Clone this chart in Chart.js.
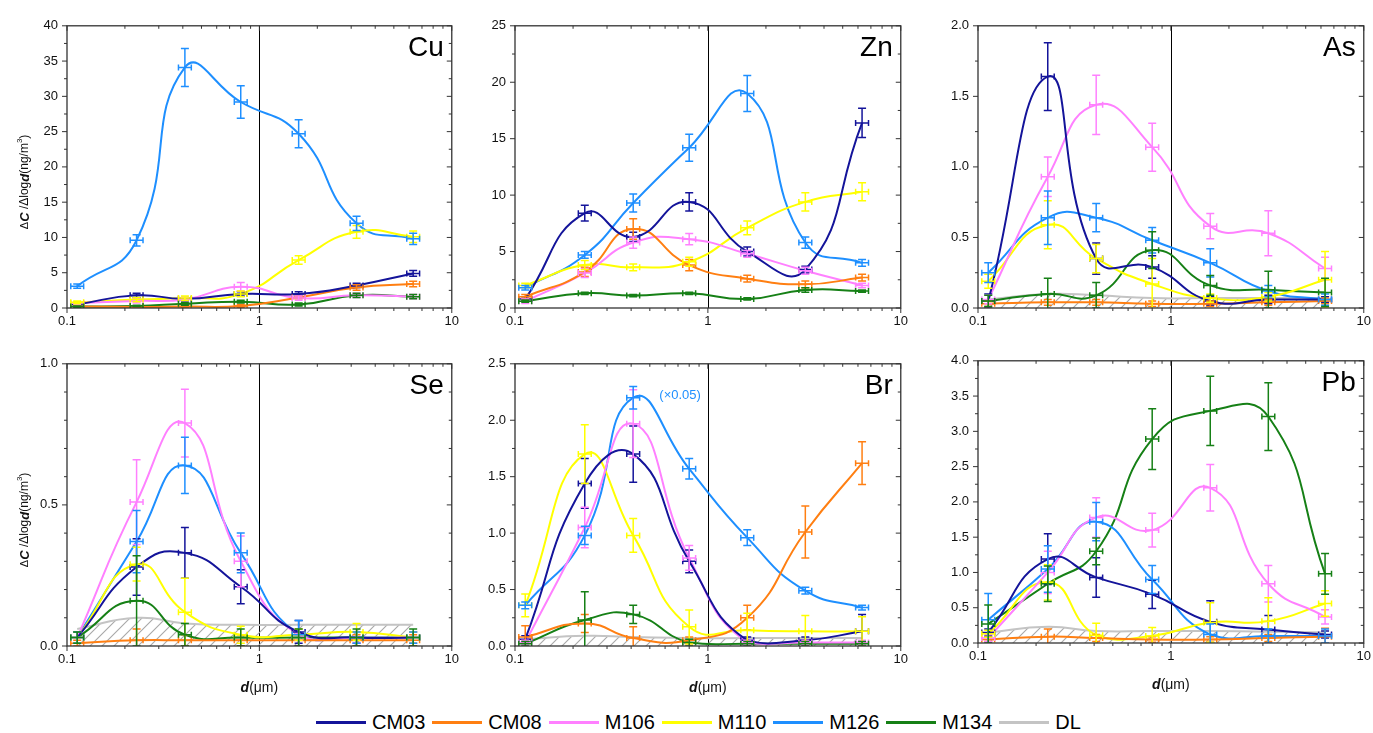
<!DOCTYPE html>
<html>
<head>
<meta charset="utf-8">
<script src="https://cdn.jsdelivr.net/npm/chart.js@4.4.0/dist/chart.umd.min.js"></script>
<style>
  html, body { margin: 0; padding: 0; background: #fff; overflow: hidden; }
  body { width: 1373px; height: 733px; position: relative; font-family: "Liberation Sans", Arial, sans-serif; }
  .panel { position: absolute; }
  #legend { position: absolute; top: 710px; left: 316px; height: 24px; display: flex; align-items: center;
            font-size: 20px; color: #000; white-space: nowrap; }
  #legend .item { display: flex; align-items: center; margin-right: 7px; }
  #legend .item i { display: inline-block; width: 50px; height: 3px; margin-right: 6px; }
</style>
</head>
<body>
<div id="legend"></div>
<script>
// stage mid diameters (um)
const SIZES = [0.113, 0.23, 0.41, 0.80, 1.6, 3.2, 6.3];
const SERIES = ['CM03', 'CM08', 'M106', 'M110', 'M126', 'M134'];
const COLORS = ['#14149a', '#ff7f12', '#ff80ff', '#ffff00', '#1e8fff', '#168016'];
const DL_COLOR = '#c4c4c4';
const X_ERR = 1.08; // horizontal error bar, multiplicative
const X_LABELS = [0.1, 1, 10];

// values per series, in SERIES order
const cuVal = [
  [0.5, 1.8, 1.3, 2.0, 2.0, 3.2, 4.9],
  [0.2, 0.15, 0.2, 0.3, 1.5, 2.9, 3.4],
  [0.7, 1.0, 1.2, 3.0, 1.4, 1.8, 1.6],
  [0.8, 1.2, 1.4, 2.0, 6.8, 10.8, 10.1],
  [3.1, 9.6, 34.1, 29.2, 24.7, 12.0, 9.8],
  [0.2, 0.3, 0.6, 0.9, 0.5, 1.8, 1.6]
];
const cuErr = [
  [0.2, 0.3, 0.2, 0.3, 0.3, 0.3, 0.4],
  [0.1, 0.1, 0.1, 0.2, 0.2, 0.4, 0.4],
  [0.2, 0.3, 0.3, 0.6, 0.3, 0.3, 0.3],
  [0.2, 0.3, 0.3, 0.4, 0.6, 0.9, 0.8],
  [0.3, 0.8, 2.7, 2.3, 2.0, 1.0, 0.8],
  [0.1, 0.1, 0.2, 0.2, 0.2, 0.3, 0.3]
];

const znVal = [
  [0.8, 8.4, 6.3, 9.4, 5.0, 3.4, 16.4],
  [1.0, 3.2, 7.0, 3.8, 2.6, 2.1, 2.7],
  [0.6, 3.1, 5.8, 6.1, 4.8, 3.3, 2.0],
  [2.0, 3.8, 3.6, 4.1, 7.1, 9.4, 10.3],
  [1.8, 4.7, 9.3, 14.2, 19.0, 5.8, 4.0],
  [0.6, 1.3, 1.1, 1.3, 0.8, 1.6, 1.5]
];
const znErr = [
  [0.2, 0.7, 0.4, 0.8, 0.4, 0.3, 1.3],
  [0.2, 0.4, 0.9, 0.5, 0.3, 0.3, 0.3],
  [0.2, 0.4, 0.5, 0.5, 0.3, 0.3, 0.2],
  [0.2, 0.4, 0.3, 0.4, 0.6, 0.8, 0.8],
  [0.2, 0.3, 0.8, 1.2, 1.6, 0.5, 0.3],
  [0.1, 0.1, 0.1, 0.1, 0.1, 0.2, 0.1]
];

const asVal = [
  [0.05, 1.64, 0.35, 0.29, 0.05, 0.06, 0.06],
  [0.03, 0.04, 0.04, 0.03, 0.03, 0.04, 0.05],
  [0.06, 0.93, 1.44, 1.14, 0.58, 0.53, 0.28],
  [0.19, 0.59, 0.35, 0.17, 0.07, 0.08, 0.20],
  [0.25, 0.64, 0.64, 0.48, 0.32, 0.12, 0.06],
  [0.05, 0.10, 0.09, 0.41, 0.16, 0.13, 0.11]
];
const asErr = [
  [0.05, 0.24, 0.11, 0.08, 0.03, 0.03, 0.02],
  [0.02, 0.02, 0.02, 0.02, 0.02, 0.02, 0.02],
  [0.03, 0.14, 0.21, 0.17, 0.09, 0.16, 0.08],
  [0.05, 0.17, 0.10, 0.18, 0.03, 0.03, 0.20],
  [0.07, 0.19, 0.10, 0.09, 0.10, 0.04, 0.04],
  [0.04, 0.11, 0.09, 0.13, 0.07, 0.13, 0.10]
];
const asDL = [0.06, 0.10, 0.09, 0.07, 0.07, 0.07, 0.07];

const seVal = [
  [0.03, 0.28, 0.33, 0.21, 0.05, 0.03, 0.03],
  [0.01, 0.02, 0.02, 0.02, 0.02, 0.02, 0.02],
  [0.03, 0.51, 0.79, 0.30, 0.04, 0.03, 0.03],
  [0.03, 0.29, 0.12, 0.04, 0.04, 0.05, 0.03],
  [0.03, 0.37, 0.64, 0.33, 0.04, 0.03, 0.03],
  [0.03, 0.16, 0.04, 0.03, 0.03, 0.03, 0.03]
];
const seErr = [
  [0.02, 0.10, 0.09, 0.06, 0.04, 0.02, 0.02],
  [0.01, 0.04, 0.02, 0.02, 0.02, 0.02, 0.02],
  [0.02, 0.15, 0.12, 0.09, 0.02, 0.02, 0.02],
  [0.02, 0.06, 0.12, 0.03, 0.02, 0.03, 0.02],
  [0.02, 0.11, 0.10, 0.07, 0.05, 0.02, 0.02],
  [0.02, 0.16, 0.04, 0.03, 0.03, 0.03, 0.03]
];
const seDL = [0.06, 0.10, 0.08, 0.075, 0.075, 0.075, 0.075];

const brVal = [
  [0.06, 1.44, 1.70, 0.75, 0.05, 0.05, 0.13],
  [0.08, 0.20, 0.07, 0.05, 0.25, 1.01, 1.62],
  [0.03, 1.05, 1.97, 0.78, 0.03, 0.03, 0.03],
  [0.36, 1.70, 0.98, 0.17, 0.14, 0.13, 0.13],
  [0.36, 0.98, 2.20, 1.57, 0.96, 0.49, 0.34],
  [0.02, 0.23, 0.28, 0.03, 0.02, 0.02, 0.02]
];
const brErr = [
  [0.03, 0.22, 0.25, 0.10, 0.03, 0.03, 0.15],
  [0.10, 0.08, 0.10, 0.03, 0.11, 0.23, 0.19],
  [0.02, 0.18, 0.30, 0.11, 0.02, 0.02, 0.02],
  [0.10, 0.26, 0.15, 0.15, 0.15, 0.14, 0.13],
  [0.03, 0.08, 0.10, 0.09, 0.07, 0.03, 0.02],
  [0.02, 0.25, 0.08, 0.03, 0.02, 0.02, 0.02]
];
const brDL = [0.06, 0.09, 0.08, 0.07, 0.07, 0.07, 0.07];

const pbVal = [
  [0.15, 1.19, 0.93, 0.69, 0.30, 0.19, 0.12],
  [0.05, 0.09, 0.07, 0.05, 0.05, 0.07, 0.09],
  [0.07, 1.00, 1.78, 1.60, 2.20, 0.84, 0.37],
  [0.13, 0.86, 0.11, 0.10, 0.29, 0.31, 0.56],
  [0.33, 1.05, 1.72, 0.90, 0.12, 0.10, 0.10],
  [0.27, 0.84, 1.30, 2.89, 3.29, 3.21, 0.98]
];
const pbErr = [
  [0.05, 0.36, 0.28, 0.20, 0.30, 0.20, 0.05],
  [0.03, 0.11, 0.05, 0.04, 0.04, 0.05, 0.12],
  [0.05, 0.30, 0.28, 0.24, 0.33, 0.26, 0.10],
  [0.05, 0.25, 0.17, 0.12, 0.28, 0.33, 0.18],
  [0.37, 0.33, 0.27, 0.20, 0.15, 0.10, 0.10],
  [0.27, 0.25, 0.19, 0.43, 0.49, 0.48, 0.29]
];
const pbDL = [0.15, 0.23, 0.17, 0.17, 0.17, 0.16, 0.15];

// layout of the six panels (plot area in page pixels)
const PANELS = [
  { name: 'Cu', val: cuVal, err: cuErr, dl: null, max: 40, step: 5, minor: 2.5, dec: 0, left: 67, right: 453, top: 21, bottom: 308, yTitle: true },
  { name: 'Zn', val: znVal, err: znErr, dl: null, max: 25, step: 5, minor: 2.5, dec: 0, left: 515, right: 902, top: 21, bottom: 308 },
  { name: 'As', val: asVal, err: asErr, dl: asDL, max: 2, step: 0.5, minor: 0.25, dec: 1, left: 978, right: 1365, top: 21, bottom: 308 },
  { name: 'Se', val: seVal, err: seErr, dl: seDL, max: 1, step: 0.5, minor: 0.1, dec: 1, left: 67, right: 453, top: 359, bottom: 646, yTitle: true, xTitle: true },
  { name: 'Br', val: brVal, err: brErr, dl: brDL, max: 2.5, step: 0.5, minor: 0.25, dec: 1, left: 515, right: 902, top: 359, bottom: 646, xTitle: true, note: '(\u00d70.05)' },
  { name: 'Pb', val: pbVal, err: pbErr, dl: pbDL, max: 4, step: 0.5, minor: 0.25, dec: 1, left: 978, right: 1365, top: 356, bottom: 643, xTitle: true }
];

const L = 62, R = 12, T = 12, B = 60;
const FONT = '"Liberation Sans", Arial, sans-serif';

function makeHatch() {
  const c = document.createElement('canvas');
  c.width = 12; c.height = 12;
  const g = c.getContext('2d');
  g.strokeStyle = '#a8a8a8';
  g.lineWidth = 1.1;
  g.beginPath();
  g.moveTo(0, 12); g.lineTo(12, 0);
  g.moveTo(-6, 6); g.lineTo(6, -6);
  g.moveTo(6, 18); g.lineTo(18, 6);
  g.stroke();
  return g.createPattern(c, 'repeat');
}
const hatch = makeHatch();

// draws mixed-font text pieces in a row, centred on 0
function drawPieces(ctx, pieces) {
  let total = 0;
  pieces.forEach(p => { ctx.font = p.f; p.w = ctx.measureText(p.t).width; total += p.w; });
  let x = -total / 2;
  pieces.forEach(p => {
    ctx.font = p.f;
    ctx.fillText(p.t, x, p.dy || 0);
    x += p.w;
  });
}

const errorBars = {
  id: 'errorBars',
  afterDatasetsDraw(chart) {
    const { ctx, chartArea: a, scales: { x, y } } = chart;
    ctx.save();
    ctx.beginPath();
    ctx.rect(a.left, a.top, a.width, a.height);
    ctx.clip();
    chart.data.datasets.forEach(ds => {
      if (!ds.errY) return;
      ctx.strokeStyle = ds.borderColor;
      ctx.lineWidth = 1.5;
      ds.data.forEach((p, j) => {
        const e = ds.errY[j];
        const px = x.getPixelForValue(p.x), py = y.getPixelForValue(p.y);
        const top = y.getPixelForValue(p.y + e), bot = y.getPixelForValue(p.y - e);
        const xl = x.getPixelForValue(p.x / X_ERR), xr = x.getPixelForValue(p.x * X_ERR);
        ctx.beginPath();
        ctx.moveTo(px, top); ctx.lineTo(px, bot);
        ctx.moveTo(px - 4, top); ctx.lineTo(px + 4, top);
        ctx.moveTo(px - 4, bot); ctx.lineTo(px + 4, bot);
        ctx.moveTo(xl, py); ctx.lineTo(xr, py);
        ctx.moveTo(xl, py - 3); ctx.lineTo(xl, py + 3);
        ctx.moveTo(xr, py - 3); ctx.lineTo(xr, py + 3);
        ctx.stroke();
      });
    });
    ctx.restore();
  }
};

const frame = {
  id: 'frame',
  beforeDatasetsDraw(chart) {
    const { ctx, chartArea: a, scales: { x } } = chart;
    const px = Math.round(x.getPixelForValue(1)) + 0.5;
    ctx.save();
    ctx.strokeStyle = '#000';
    ctx.lineWidth = 1;
    ctx.beginPath();
    ctx.moveTo(px, a.top); ctx.lineTo(px, a.bottom);
    ctx.stroke();
    ctx.restore();
  },
  afterDraw(chart, args, opts) {
    const p = opts.panel;
    const { ctx, chartArea: a, scales: { x, y } } = chart;
    ctx.save();
    ctx.strokeStyle = '#333';
    ctx.lineWidth = 1.3;
    ctx.strokeRect(a.left, a.top, a.width, a.height);

    ctx.lineWidth = 1;
    ctx.beginPath();
    const n = Math.round(p.max / p.minor);
    for (let k = 0; k <= n; k++) {
      const v = k * p.minor;
      const major = Math.abs(v / p.step - Math.round(v / p.step)) < 1e-6;
      const len = major ? 5 : 3;
      const py = y.getPixelForValue(v);
      ctx.moveTo(a.left, py); ctx.lineTo(a.left - len, py);
      ctx.moveTo(a.right, py); ctx.lineTo(a.right - len, py);
    }
    [0.1, 1].forEach(dec => {
      for (let m = 1; m <= 10; m++) {
        if (dec === 1 && m === 1) continue;
        const v = dec * m;
        const len = (m === 1 || m === 10) ? 5 : 3;
        const px = x.getPixelForValue(v);
        ctx.moveTo(px, a.bottom); ctx.lineTo(px, a.bottom + len);
        ctx.moveTo(px, a.top); ctx.lineTo(px, a.top + len);
      }
    });
    ctx.stroke();

    ctx.fillStyle = '#000';
    ctx.textAlign = 'right';
    ctx.textBaseline = 'alphabetic';
    ctx.font = '28px ' + FONT;
    ctx.fillText(p.name, a.right - 8, a.top + 30);

    if (p.note) {
      ctx.fillStyle = COLORS[4];
      ctx.font = '13px ' + FONT;
      ctx.textAlign = 'left';
      ctx.textBaseline = 'middle';
      ctx.fillText(p.note, x.getPixelForValue(0.56), y.getPixelForValue(2.22));
    }

    ctx.fillStyle = '#111';
    ctx.textBaseline = 'middle';
    ctx.textAlign = 'left';
    if (p.xTitle) {
      ctx.save();
      ctx.translate((a.left + a.right) / 2, a.bottom + 42);
      drawPieces(ctx, [
        { t: 'd', f: 'bold italic 14px ' + FONT },
        { t: '(\u03bcm)', f: '14px ' + FONT }
      ]);
      ctx.restore();
    }
    if (p.yTitle) {
      ctx.save();
      ctx.translate(a.left - 42, (a.top + a.bottom) / 2 + 15);
      ctx.rotate(-Math.PI / 2);
      drawPieces(ctx, [
        { t: '\u0394', f: '11px ' + FONT },
        { t: 'C', f: 'bold italic 13px ' + FONT },
        { t: ' /\u0394log', f: '12px ' + FONT },
        { t: 'd', f: 'bold italic 13px ' + FONT },
        { t: '(ng/m', f: '12px ' + FONT },
        { t: '3', f: '8px ' + FONT, dy: -5 },
        { t: ')', f: '12px ' + FONT }
      ]);
      ctx.restore();
    }
    ctx.restore();
  }
};

PANELS.forEach(p => {
  const w = (p.right - p.left) + L + R;
  const h = (p.bottom - p.top) + T + B;
  const div = document.createElement('div');
  div.className = 'panel';
  div.style.left = (p.left - L) + 'px';
  div.style.top = (p.top - T) + 'px';
  const canvas = document.createElement('canvas');
  canvas.width = w; canvas.height = h;
  canvas.style.width = w + 'px'; canvas.style.height = h + 'px';
  div.appendChild(canvas);
  document.body.appendChild(div);

  const datasets = SERIES.map((name, i) => ({
    label: name,
    data: SIZES.map((sx, j) => ({ x: sx, y: p.val[i][j] })),
    errY: p.err[i],
    borderColor: COLORS[i],
    backgroundColor: COLORS[i],
    borderWidth: 2,
    fill: false
  }));
  if (p.dl) {
    datasets.push({
      label: 'DL',
      data: SIZES.map((sx, j) => ({ x: sx, y: p.dl[j] })),
      borderColor: DL_COLOR,
      backgroundColor: hatch,
      borderWidth: 2,
      fill: 'origin'
    });
  }

  new Chart(canvas.getContext('2d'), {
    type: 'line',
    data: { datasets },
    plugins: [frame, errorBars],
    options: {
      responsive: false,
      animation: false,
      layout: { padding: { left: 0, right: R, top: T, bottom: 0 } },
      elements: { point: { radius: 0, hoverRadius: 0 }, line: { tension: 0.5 } },
      plugins: {
        legend: { display: false },
        tooltip: { enabled: false },
        frame: { panel: p }
      },
      scales: {
        x: {
          type: 'logarithmic', min: 0.1, max: 10,
          grid: { display: false, drawTicks: false },
          border: { display: false },
          afterBuildTicks: s => { s.ticks = X_LABELS.map(v => ({ value: v })); },
          afterFit: s => { s.height = B; },
          ticks: {
            autoSkip: false, maxRotation: 0, padding: 6, color: '#111',
            font: { family: FONT, size: 13 },
            callback: v => String(v)
          }
        },
        y: {
          min: 0, max: p.max,
          grid: { display: false, drawTicks: false },
          border: { display: false },
          afterFit: s => { s.width = L; },
          ticks: {
            stepSize: p.step, padding: 9, color: '#111',
            font: { family: FONT, size: 13 },
            callback: v => Number(v).toFixed(p.dec)
          }
        }
      }
    }
  });
});

// shared legend
const legend = document.getElementById('legend');
SERIES.concat(['DL']).forEach((name, i) => {
  const item = document.createElement('span');
  item.className = 'item';
  const line = document.createElement('i');
  line.style.background = i < SERIES.length ? COLORS[i] : DL_COLOR;
  item.appendChild(line);
  item.appendChild(document.createTextNode(name));
  legend.appendChild(item);
});
</script>
</body>
</html>
